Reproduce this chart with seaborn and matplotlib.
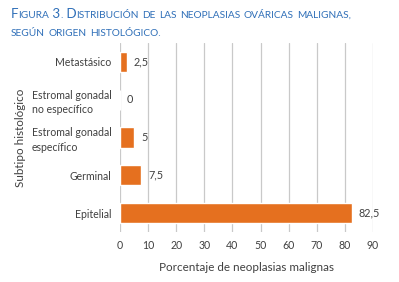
import matplotlib
matplotlib.use("Agg")
import matplotlib.pyplot as plt
import seaborn as sns
import pandas as pd

categories = ["Metastásico", "Estromal gonadal\nno específico", "Estromal gonadal\nespecífico", "Germinal", "Epitelial"]
values = [2.5, 0, 5, 7.5, 82.5]
value_labels = ["2,5", "0", "5", "7,5", "82,5"]
x_ticks = [0, 10, 20, 30, 40, 50, 60, 70, 80, 90]
title_lines = ["Figura 3. Distribución de las neoplasias ováricas malignas,",
               "según origen histológico."]
x_title = "Porcentaje de neoplasias malignas"
y_title = "Subtipo histológico"

sns.set_theme(style="white")
plt.rcParams['font.family'] = ['Lato', 'DejaVu Sans']

W, H = 399, 282
fig = plt.figure(figsize=(W / 100, H / 100), dpi=100)
ax = fig.add_axes([120 / W, 1 - 232 / H, (373 - 120) / W, (232 - 43) / H])

df = pd.DataFrame({"cat": categories, "val": values})
sns.barplot(data=df, x="val", y="cat", orient="h", color="#e5701f", width=0.53,
            saturation=1, ax=ax, zorder=3)
ax.bar_label(ax.containers[0], labels=value_labels, padding=5, fontsize=7.8, color="#404040")

ax.set_xlim(0, 90)
ax.set_xticks(x_ticks)
ax.set_xticklabels([str(t) for t in x_ticks])
ax.grid(axis="x", color="#c9c9c9", linewidth=0.9, zorder=0)
ax.grid(axis="y", visible=False)
for s in ax.spines.values():
    s.set_visible(False)
ax.tick_params(axis="both", length=0, labelsize=7.6, colors="#404040")
ax.tick_params(axis="x", pad=6)
ax.tick_params(axis="y", pad=6)
for lab in ax.get_yticklabels():
    lab.set_multialignment("left")
    lab.set_linespacing(1.35)
ax.set_xlabel(x_title, fontsize=8.4, color="#404040", labelpad=8)
ax.set_ylabel(y_title, fontsize=8.4, color="#404040", labelpad=4)

# Small-caps title emulation
fig.canvas.draw()
renderer = fig.canvas.get_renderer()
title_color = "#2f6fb8"
big, small = 9.6, 7.3


def runs(s):
    out = []
    cur, cur_low = "", None
    for ch in s:
        low = ch.islower() or ch in ",."
        if cur_low is None or low == cur_low:
            cur += ch
        else:
            out.append((cur, cur_low))
            cur = ch
        cur_low = low
    if cur:
        out.append((cur, cur_low))
    return out


y_pos = [1 - 18 / H, 1 - 36 / H]
for line, yy in zip(title_lines, y_pos):
    x = 11 / W
    for txt, low in runs(line):
        t = fig.text(x, yy, txt.upper(), fontsize=small if low else big,
                     color=title_color, va="baseline", ha="left")
        bb = t.get_window_extent(renderer)
        x = bb.x1 / fig.bbox.width

fig.savefig("out.png", dpi=100)
